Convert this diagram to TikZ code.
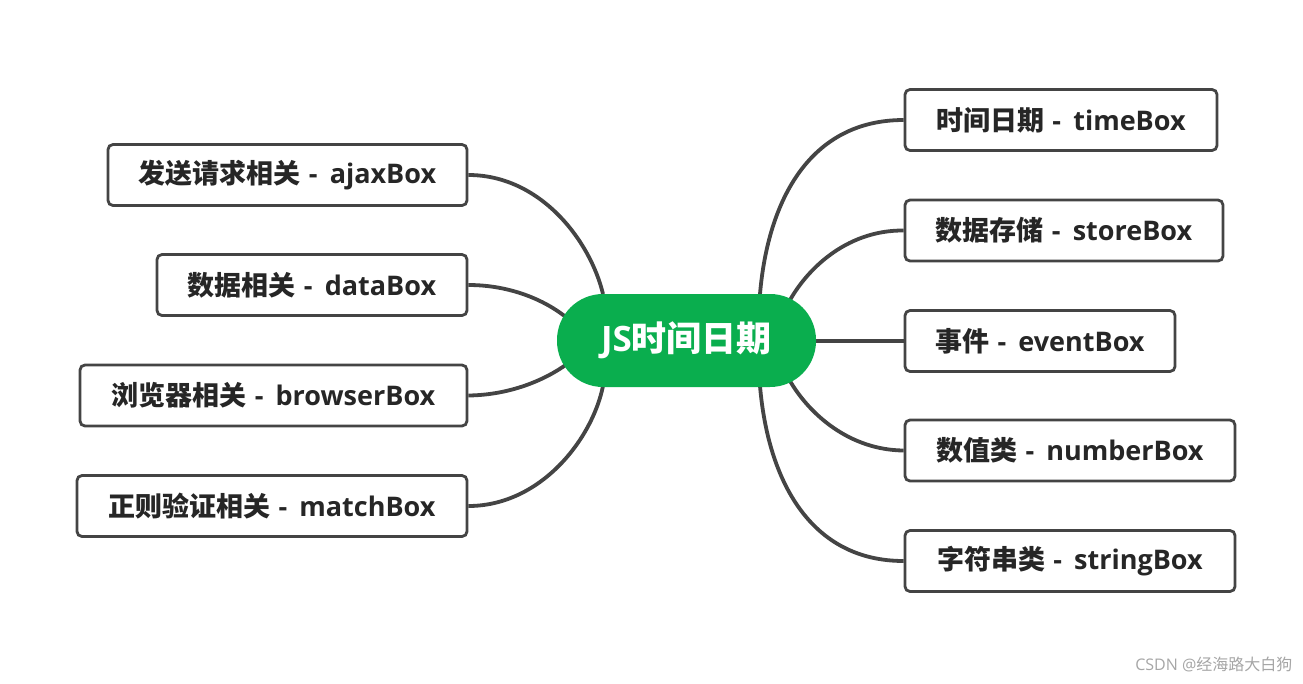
\documentclass[tikz,border=0pt]{standalone}
\usepackage{fontspec}
\setmainfont{Open Sans}
\newfontfamily\cjk{Noto Sans CJK SC}
\definecolor{mmgreen}{HTML}{0AAE4E}
\definecolor{mmline}{HTML}{444444}
\definecolor{mmtext}{HTML}{262626}
\newcommand\lbl[2]{{\cjk #1}\hspace{0.3em}-\hspace{0.45em}#2}
\begin{document}
\begin{tikzpicture}[x=1pt,y=-1pt,
  topic/.style={draw=mmline,line width=2.8pt,rounded corners=5pt,fill=white,
    minimum height=61pt,inner sep=0pt,font=\fontsize{27}{30}\selectfont\bfseries,text=mmtext},
  link/.style={draw=mmline,line width=3.8pt},
  central/.style={fill=mmgreen,rounded corners=46pt,minimum width=259pt,minimum height=93pt,
    inner sep=0pt,text=white,font=\fontsize{35}{40}\selectfont\bfseries}]
\useasboundingbox (0,0) rectangle (1303,683);
\fill[white] (0,0) rectangle (1303,683);
\coordinate (c1) at (760,294);
\coordinate (c2) at (790,300);
\coordinate (c3) at (814,341);
\coordinate (c4) at (790,381);
\coordinate (c5) at (760,386);
\coordinate (d1) at (603,294);
\coordinate (d2) at (567,318);
\coordinate (d3) at (567,364);
\coordinate (d4) at (603,386);
\node[topic,minimum width=312pt] (t1) at (1061,120) {\lbl{时间日期}{timeBox}};
\node[topic,minimum width=318pt] (t2) at (1064,230.5) {\lbl{数据存储}{storeBox}};
\node[topic,minimum width=270pt] (t3) at (1040,341) {\lbl{事件}{eventBox}};
\node[topic,minimum width=330pt] (t4) at (1070,450.5) {\lbl{数值类}{numberBox}};
\node[topic,minimum width=330pt] (t5) at (1070,561) {\lbl{字符串类}{stringBox}};
\node[topic,minimum width=359pt] (s1) at (287.5,175) {\lbl{发送请求相关}{ajaxBox}};
\node[topic,minimum width=310pt] (s2) at (312,285) {\lbl{数据相关}{dataBox}};
\node[topic,minimum width=387pt] (s3) at (273.5,395.5) {\lbl{浏览器相关}{browserBox}};
\node[topic,minimum width=390pt] (s4) at (272,506) {\lbl{正则验证相关}{matchBox}};
\draw[link] (t1.west) .. controls (810,120) and (768,200) .. (c1);
\draw[link] (t2.west) .. controls (850,230) and (810,265) .. (c2);
\draw[link] (t3.west) -- (c3);
\draw[link] (t4.west) .. controls (850,450) and (810,415) .. (c4);
\draw[link] (t5.west) .. controls (810,561) and (768,480) .. (c5);
\draw[link] (s1.east) .. controls (540,175) and (590,240) .. (d1);
\draw[link] (s2.east) .. controls (510,285) and (545,300) .. (d2);
\draw[link] (s3.east) .. controls (510,395) and (545,380) .. (d3);
\draw[link] (s4.east) .. controls (540,506) and (592,440) .. (d4);
\node[central] (c) at (686.5,340.5) {JS{\cjk 时间日期}};
\node[text=gray!70,font=\fontsize{16}{18}\selectfont,anchor=east] (wm) at (1296,664) {CSDN @{\cjk 经海路大白狗}};
\end{tikzpicture}
\end{document}
